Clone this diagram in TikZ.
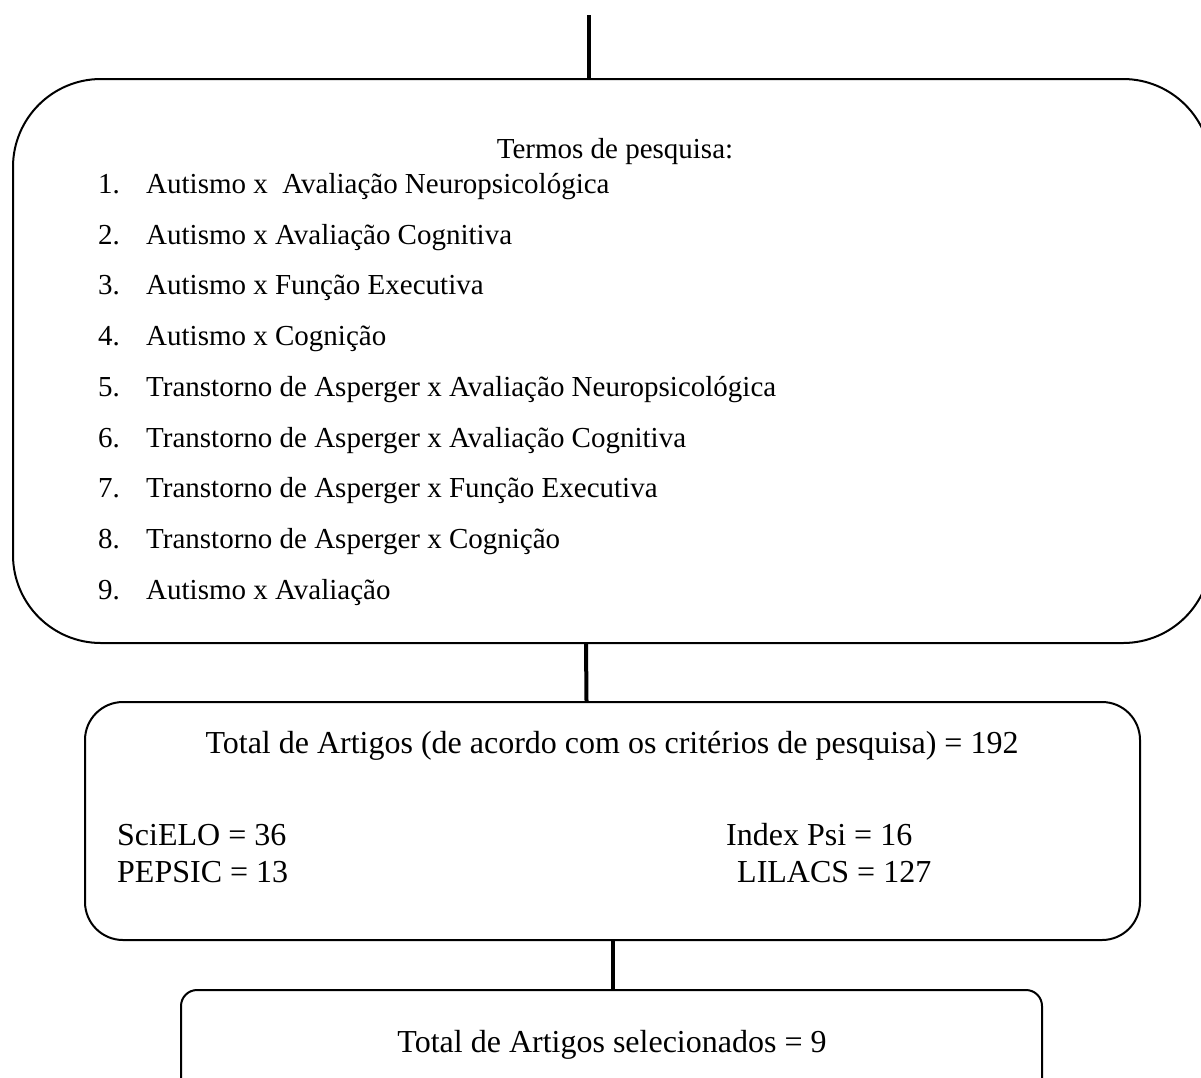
\documentclass[tikz,border=0pt]{standalone}
\usepackage{fontspec}
\setmainfont{Liberation Serif}
\begin{document}
\begin{tikzpicture}[x=1pt,y=-1pt,
  box/.style={draw, line width=2pt, inner sep=0pt},
  conn/.style={line width=4pt},
  item/.style={anchor=base west, inner sep=0pt, font=\fontsize{29}{34}\selectfont},
  big/.style={inner sep=0pt, font=\fontsize{32}{38}\selectfont}]
\useasboundingbox (0,0) rectangle (1201,1077);
% boxes
\node[box, rounded corners=88pt, minimum width=1198pt, minimum height=564pt] (b1) at (612,361) {};
\node[box, rounded corners=38pt, minimum width=1055pt, minimum height=238pt] (b2) at (612.5,821) {};
\node[box, rounded corners=16pt, minimum width=861pt, minimum height=140pt] (b3) at (611.5,1060) {};
% connectors
\coordinate (top) at (589,15);
\draw[conn] (top) -- (top |- b1.north);
\draw[conn] ([xshift=-26pt]b1.south) -- ([xshift=-26pt]b2.north);
\draw[conn] (b2.south) -- (b2.south |- b3.north);
% box 1 text
\node[item, anchor=base] (title) at (615,158) {Termos de pesquisa:};
\node[item] (n1) at (98,193) {1.};
\node[item] (t1) at (146,193) {Autismo x\ \ Avaliação Neuropsicológica};
\node[item] (n2) at (98,244) {2.};
\node[item] (t2) at (146,244) {Autismo x Avaliação Cognitiva};
\node[item] (n3) at (98,294) {3.};
\node[item] (t3) at (146,294) {Autismo x Função Executiva};
\node[item] (n4) at (98,345) {4.};
\node[item] (t4) at (146,345) {Autismo x Cognição};
\node[item] (n5) at (98,396) {5.};
\node[item] (t5) at (146,396) {Transtorno de Asperger x Avaliação Neuropsicológica};
\node[item] (n6) at (98,447) {6.};
\node[item] (t6) at (146,447) {Transtorno de Asperger x Avaliação Cognitiva};
\node[item] (n7) at (98,497) {7.};
\node[item] (t7) at (146,497) {Transtorno de Asperger x Função Executiva};
\node[item] (n8) at (98,548) {8.};
\node[item] (t8) at (146,548) {Transtorno de Asperger x Cognição};
\node[item] (n9) at (98,599) {9.};
\node[item] (t9) at (146,599) {Autismo x Avaliação};
% box 2 text
\node[big, anchor=base] (total) at (612,753) {Total de Artigos (de acordo com os critérios de pesquisa) = 192};
\node[big, anchor=base west] (scielo) at (117,845) {SciELO = 36};
\node[big, anchor=base west] (pepsic) at (117,882) {PEPSIC = 13};
\node[big, anchor=base west] (index) at (726,845) {Index Psi = 16};
\node[big, anchor=base west] (lilacs) at (737,882) {LILACS = 127};
% box 3 text
\node[big, anchor=base] (sel) at (612,1052) {Total de Artigos selecionados = 9};
\end{tikzpicture}
\end{document}
